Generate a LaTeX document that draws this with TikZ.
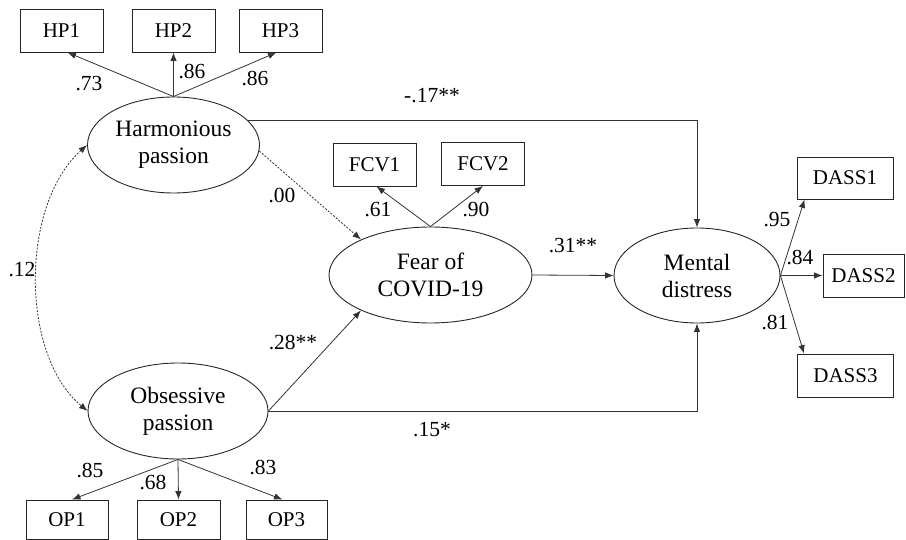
\documentclass[tikz,border=0pt]{standalone}
\usepackage{fontspec}
\setmainfont{Liberation Serif}
\usetikzlibrary{arrows.meta,shapes.geometric}
\begin{document}
\begin{tikzpicture}[x=1pt,y=-1pt,
  line/.style={draw=black!80,line width=0.8pt},
  arr/.style={line,-{Latex[length=8.5pt,width=6.5pt]}},
  dot/.style={dash pattern=on 2pt off 1.5pt},
  obs/.style={draw=black!85,line width=0.9pt,rectangle,inner sep=0pt,font=\rmfamily\fontsize{21}{24}\selectfont},
  lat/.style={draw=black!85,line width=0.9pt,ellipse,inner sep=0pt,align=center,font=\rmfamily\fontsize{23.5}{27}\selectfont},
  lab/.style={inner sep=0pt,font=\rmfamily\fontsize{21.5}{24}\selectfont}]
\useasboundingbox (0,0) rectangle (906,540);
% observed boxes
\node[obs,minimum width=83pt,minimum height=43pt] (hp1) at (61.5,30.5) {HP1};
\node[obs,minimum width=83pt,minimum height=43pt] (hp2) at (173.5,30.5) {HP2};
\node[obs,minimum width=83pt,minimum height=43pt] (hp3) at (280.5,30.5) {HP3};
\node[obs,minimum width=83pt,minimum height=43pt] (fcv1) at (374.5,164.5) {FCV1};
\node[obs,minimum width=83pt,minimum height=43pt] (fcv2) at (483,164) {FCV2};
\node[obs,minimum width=96pt,minimum height=42pt] (dass1) at (845,178) {DASS1};
\node[obs,minimum width=81pt,minimum height=43pt] (dass2) at (863.5,275.5) {DASS2};
\node[obs,minimum width=96pt,minimum height=43pt] (dass3) at (845.5,375.5) {DASS3};
\node[obs,minimum width=82pt,minimum height=39pt] (op1) at (67,519.5) {OP1};
\node[obs,minimum width=83pt,minimum height=39pt] (op2) at (178.5,519.5) {OP2};
\node[obs,minimum width=81pt,minimum height=39pt] (op3) at (286.5,519.5) {OP3};
% latent ellipses
\node[lat,minimum width=172pt,minimum height=96pt] (hp) at (173.5,145) {Harmonious\\passion};
\node[lat,minimum width=180pt,minimum height=96pt] (op) at (178,411) {Obsessive\\passion};
\node[lat,minimum width=203pt,minimum height=96pt] (fear) at (430.5,275) {Fear of\\COVID-19};
\node[lat,minimum width=166pt,minimum height=95pt] (md) at (697,275.5) {Mental\\distress};
% loadings
\draw[arr] (hp.north) -- ([xshift=6pt]hp1.south);
\draw[arr] (hp.north) -- (hp2.south);
\draw[arr] (hp.north) -- ([xshift=-4pt]hp3.south);
\draw[arr] (op.south) -- ([xshift=5pt]op1.north);
\draw[arr] (op.south) -- (op2.north);
\draw[arr] (op.south) -- ([xshift=-4pt]op3.north);
\draw[arr] (fear.north) -- ([xshift=2pt]fcv1.south);
\draw[arr] (fear.north) -- (fcv2.south);
\draw[arr] (md.east) -- ([xshift=8pt]dass1.south west);
\draw[arr] (md.east) -- (dass2.west);
\draw[arr] (md.east) -- ([xshift=7pt]dass3.north west);
% structural paths
\draw[arr] (hp.18) -| (md.north);
\draw[arr] (op.east) -| (md.south);
\draw[arr] (op.east) -- (fear.207);
\draw[arr] (fear.east) -- (md.west);
\draw[arr,dot] (hp.-4) -- (fear.153);
\draw[line,dot,{Latex[length=8.5pt,width=6.5pt]}-{Latex[length=8.5pt,width=6.5pt]}] (hp.west) .. controls (20,205) and (20,355) .. (op.west);
% labels
\node[lab] (l1) at (89,84) {.73};
\node[lab] (l2) at (192,72) {.86};
\node[lab] (l3) at (255,79) {.86};
\node[lab] (l4) at (432,96) {-.17**};
\node[lab] (l5) at (282,196) {.00};
\node[lab] (l6) at (378,210) {.61};
\node[lab] (l7) at (476,210) {.90};
\node[lab] (l8) at (22,270) {.12};
\node[lab] (l9) at (293,343) {.28**};
\node[lab] (l10) at (573,246) {.31**};
\node[lab] (l11) at (777,220) {.95};
\node[lab] (l12) at (800,258) {.84};
\node[lab] (l13) at (775,323) {.81};
\node[lab] (l14) at (432,430) {.15*};
\node[lab] (l15) at (90,471) {.85};
\node[lab] (l16) at (153,483) {.68};
\node[lab] (l17) at (263,468) {.83};
\end{tikzpicture}
\end{document}
